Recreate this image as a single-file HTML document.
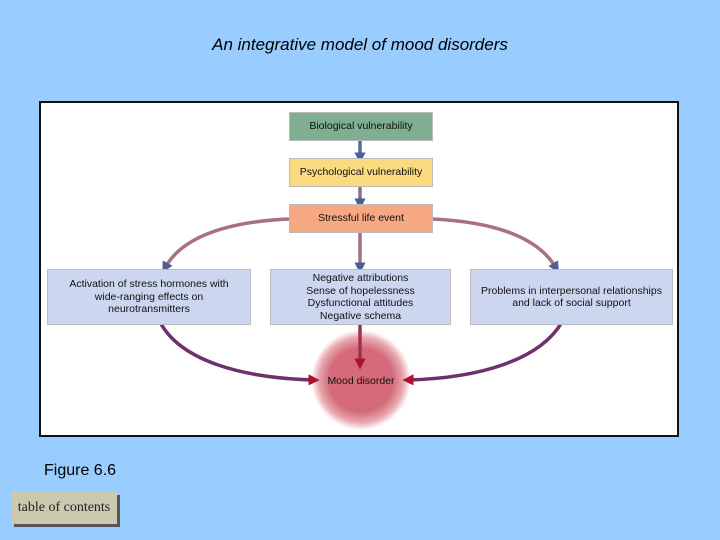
<!DOCTYPE html>
<html><head><style>
body{margin:0;width:720px;height:540px;background:#99ccff;position:relative;overflow:hidden;font-family:"Liberation Sans",sans-serif}
.t{position:absolute;left:0;width:720px;top:35px;text-align:center;font-style:italic;font-size:17px;color:#000}
.fr{position:absolute;left:39px;top:101px;width:640px;height:336px;background:#fff;border:2px solid #111;box-sizing:border-box}
.b{position:absolute;font-size:10.5px;text-align:center;display:flex;align-items:center;justify-content:center;line-height:12.5px;color:#111;box-sizing:border-box;border:1px solid #bbb}
.fig{position:absolute;left:44px;top:462px;font-size:16px;color:#000}
.toc{position:absolute;left:11px;top:492px;width:106px;height:32px;background:#cdc8b0;font-family:"Liberation Serif",serif;font-size:14px;line-height:32px;text-align:center;box-shadow:3px 3px 0 #555;color:#222}
</style></head><body>
<div class="t">An integrative model of mood disorders</div>
<div class="fr"></div>
<svg style="position:absolute;left:0;top:0" width="720" height="540">
<defs>
<radialGradient id="rg"><stop offset="0.6" stop-color="#d06070"/><stop offset="0.85" stop-color="#e8a8b0"/><stop offset="1" stop-color="#fff"/></radialGradient>
<marker id="ab" markerWidth="3.2" markerHeight="3.2" refX="1.6" refY="1.6" orient="auto"><path d="M0,0L3.2,1.6L0,3.2z" fill="#4a5f9a"/></marker>
<marker id="ar" markerWidth="3.2" markerHeight="3.2" refX="1.6" refY="1.6" orient="auto"><path d="M0,0L3.2,1.6L0,3.2z" fill="#b01030"/></marker>
</defs>
<circle cx="361" cy="380" r="50" fill="url(#rg)"/>
<circle cx="361" cy="380" r="31" fill="#d56a7a"/>
<g fill="none" stroke-width="3.5">
<path d="M289,219 C220,222 180,240 165,268" stroke="#a87080" marker-end="url(#ab)"/>
<path d="M432,219 C500,222 540,240 556,268" stroke="#a87080" marker-end="url(#ab)"/>
<path d="M360,141 L360,158" stroke="#4a6f9a" marker-end="url(#ab)"/>
<path d="M360,187 L360,204" stroke="#8a6f8a" marker-end="url(#ab)"/>
<path d="M360,233 L360,268" stroke="#a07080" marker-end="url(#ab)"/>
<path d="M360,325 L360,364" stroke="#a03050" marker-end="url(#ar)"/>
<path d="M160,322 C180,360 240,378 314,380" stroke="#70306a" marker-end="url(#ar)"/>
<path d="M562,322 C540,360 480,378 408,380" stroke="#70306a" marker-end="url(#ar)"/>
</g>
<text x="361" y="384" font-size="10.5" text-anchor="middle" font-family="Liberation Sans" fill="#111">Mood disorder</text>
</svg>
<div class="b" style="left:289px;top:112px;width:144px;height:29px;background:#7fae92">Biological vulnerability</div>
<div class="b" style="left:289px;top:158px;width:144px;height:29px;background:#fbdb80">Psychological vulnerability</div>
<div class="b" style="left:289px;top:204px;width:144px;height:29px;background:#f5a882">Stressful life event</div>
<div class="b" style="left:47px;top:269px;width:204px;height:56px;background:#ccd6ee">Activation of stress hormones with<br>wide-ranging effects on<br>neurotransmitters</div>
<div class="b" style="left:270px;top:269px;width:181px;height:56px;background:#ccd6ee">Negative attributions<br>Sense of hopelessness<br>Dysfunctional attitudes<br>Negative schema</div>
<div class="b" style="left:470px;top:269px;width:203px;height:56px;background:#ccd6ee">Problems in interpersonal relationships<br>and lack of social support</div>
<div class="fig">Figure 6.6</div>
<div class="toc">table of contents</div>
</body></html>
